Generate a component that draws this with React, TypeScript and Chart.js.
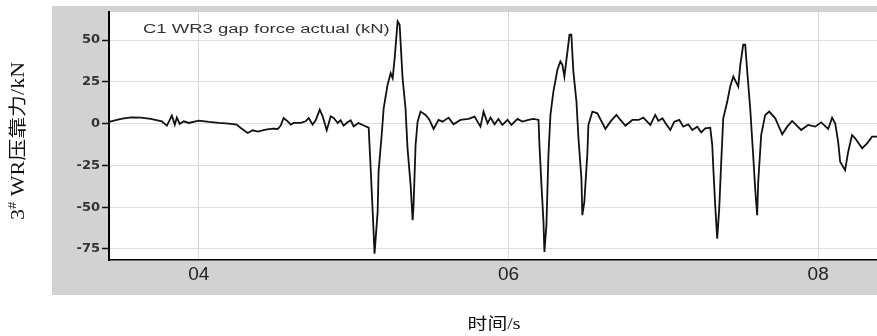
import React, { useEffect, useRef } from "react";
import { Chart, registerables } from "chart.js";

Chart.register(...registerables);

const seriesLabel = "C1 WR3 gap force actual (kN)";
const xTitle = "时间/s";
const yTitleLead = "3";
const yTitleSup = "#";
const yTitleRest = " WR压靠力/kN";

const xTicks = [4, 6, 8];
const yTicks = [-75, -50, -25, 0, 25, 50];
const xMin = 3.42;
const xMax = 8.38;
const yMin = -81.6;
const yMax = 66.8;

const timeS = [
  3.419, 3.497, 3.561, 3.626, 3.69, 3.761, 3.794, 3.826, 3.845, 3.858, 3.877, 3.903, 3.935,
  4.0, 4.065, 4.129, 4.194, 4.245, 4.271, 4.316, 4.348, 4.381, 4.432, 4.477, 4.51, 4.529,
  4.548, 4.574, 4.594, 4.613, 4.658, 4.69, 4.71, 4.735, 4.755, 4.781, 4.8, 4.826, 4.852,
  4.871, 4.897, 4.916, 4.935, 4.961, 4.981, 5.0, 5.032, 5.058, 5.097, 5.11, 5.123, 5.135,
  5.155, 5.161, 5.181, 5.194, 5.219, 5.239, 5.252, 5.265, 5.284, 5.297, 5.316, 5.335, 5.348,
  5.368, 5.381, 5.387, 5.4, 5.413, 5.432, 5.465, 5.49, 5.516, 5.548, 5.574, 5.613, 5.645,
  5.69, 5.742, 5.781, 5.819, 5.839, 5.865, 5.884, 5.91, 5.935, 5.961, 5.994, 6.019, 6.058,
  6.09, 6.129, 6.161, 6.194, 6.2, 6.213, 6.226, 6.232, 6.245, 6.258, 6.271, 6.29, 6.316,
  6.335, 6.348, 6.361, 6.381, 6.394, 6.406, 6.419, 6.439, 6.452, 6.471, 6.477, 6.49, 6.51,
  6.516, 6.542, 6.574, 6.626, 6.658, 6.697, 6.723, 6.755, 6.8, 6.839, 6.871, 6.916, 6.948,
  6.968, 6.994, 7.019, 7.045, 7.071, 7.103, 7.129, 7.161, 7.187, 7.219, 7.245, 7.271, 7.303,
  7.316, 7.323, 7.335, 7.348, 7.361, 7.374, 7.387, 7.413, 7.432, 7.452, 7.484, 7.497, 7.516,
  7.529, 7.542, 7.561, 7.581, 7.594, 7.606, 7.613, 7.632, 7.658, 7.684, 7.723, 7.768, 7.8,
  7.832, 7.89, 7.935, 7.981, 8.019, 8.065, 8.09, 8.11, 8.129, 8.142, 8.174, 8.194, 8.219,
  8.239, 8.284, 8.316, 8.348, 8.381,
];

const forceKN = [
  1.0, 2.8, 3.8, 3.6, 2.8, 1.4, -1.2, 4.8, -0.6, 3.6, -0.2, 1.4, 0.4,
  1.8, 1.0, 0.4, 0.0, -0.6, -2.6, -5.6, -4.0, -4.8, -3.6, -3.0, -3.2, -1.2,
  3.4, 1.4, -0.6, 0.4, 0.4, 1.4, 3.4, -0.6, 2.0, 8.4, 4.4, -4.0, 4.4,
  3.4, 0.4, 2.0, -1.2, 0.8, 2.0, -1.6, 0.4, -0.8, -2.4, -26.8, -52.8, -77.8,
  -52.8, -28.8, -6.8, 9.2, 23.2, 30.2, 27.2, 39.2, 61.2, 59.2, 27.2, 9.2, -14.8,
  -36.8, -57.8, -48.8, -12.8, 1.2, 7.2, 5.2, 2.2, -3.2, 2.2, 1.2, 3.6, -0.4,
  2.2, 2.8, 4.2, -1.8, 7.2, 0.2, 3.6, -0.4, 2.8, -0.8, 2.2, -0.8, 2.8,
  1.2, 2.2, 2.8, 2.2, -12.8, -36.8, -58.8, -76.8, -60.8, -18.8, 5.2, 19.2, 32.2,
  37.2, 35.2, 28.2, 43.2, 53.2, 53.2, 31.2, 13.2, -8.8, -32.8, -54.8, -46.8, -16.8,
  -0.8, 7.2, 6.2, -3.2, 1.2, 5.2, 2.2, -1.2, 2.2, 2.2, 3.6, -0.8, 5.2,
  1.6, 3.2, -0.4, -3.8, 1.2, 2.2, -1.8, -0.4, -3.8, -1.8, -5.2, -2.8, -2.4,
  -12.8, -26.8, -48.8, -68.8, -50.8, -22.8, 3.2, 13.2, 22.2, 28.2, 22.2, 35.2, 47.2,
  47.2, 31.2, 9.2, -20.0, -40.0, -54.8, -34.8, -6.8, 5.2, 7.2, 3.2, -6.4, -1.8,
  1.6, -3.8, -0.8, -1.8, 0.8, -3.2, 3.6, 0.2, -10.8, -22.8, -27.8, -16.8, -6.8,
  -8.8, -14.8, -11.8, -7.8, -7.8,
];

const panelPlugin = {
  id: "panelPlugin",
  beforeDraw(chart: any) {
    const { ctx, chartArea: a } = chart;
    ctx.save();
    ctx.fillStyle = "#d2d2d2";
    ctx.fillRect(52, 6, 877 - 52, 295 - 6);
    ctx.fillStyle = "#ffffff";
    ctx.fillRect(a.left, a.top, a.right - a.left, a.bottom - a.top);
    ctx.restore();
  },
  afterDraw(chart: any) {
    const { ctx } = chart;
    // series label inside the plot
    ctx.save();
    ctx.translate(143, 33);
    ctx.scale(1.48, 1);
    ctx.font = '12.5px "Liberation Sans", Arial, sans-serif';
    ctx.fillStyle = "#333333";
    ctx.textBaseline = "alphabetic";
    ctx.textAlign = "left";
    ctx.fillText(seriesLabel, 0, 0);
    ctx.restore();

    // x title
    ctx.save();
    ctx.translate(494, 325);
    ctx.scale(1.24, 1);
    ctx.font = '16px "Liberation Serif", "Noto Sans CJK SC", serif';
    ctx.fillStyle = "#111111";
    ctx.textAlign = "center";
    ctx.textBaseline = "middle";
    ctx.fillText(xTitle, 0, 0);
    ctx.restore();

    // y title (rotated, with superscript)
    ctx.save();
    const mainFont = '18px "Liberation Serif", "Noto Sans CJK SC", serif';
    const supFont = '12px "Liberation Serif", serif';
    ctx.font = mainFont;
    const w1 = ctx.measureText(yTitleLead).width;
    const w3 = ctx.measureText(yTitleRest).width;
    ctx.font = supFont;
    const w2 = ctx.measureText(yTitleSup).width;
    const total = w1 + w2 + w3;
    ctx.translate(19, 141);
    ctx.rotate(-Math.PI / 2);
    ctx.scale(1.22, 1);
    ctx.fillStyle = "#111111";
    ctx.textAlign = "left";
    ctx.textBaseline = "middle";
    let x0 = -total / 2;
    ctx.font = mainFont;
    ctx.fillText(yTitleLead, x0, 0);
    x0 += w1;
    ctx.font = supFont;
    ctx.fillText(yTitleSup, x0, -6);
    x0 += w2;
    ctx.font = mainFont;
    ctx.fillText(yTitleRest, x0, 0);
    ctx.restore();
  },
};

export default function App() {
  const canvasRef = useRef<HTMLCanvasElement | null>(null);

  useEffect(() => {
    const canvas = canvasRef.current;
    if (!canvas) return;
    const chart = new Chart(canvas, {
      type: "line",
      data: {
        datasets: [
          {
            label: seriesLabel,
            data: timeS.map((t, i) => ({ x: t, y: forceKN[i] })),
            borderColor: "#111111",
            borderWidth: 1.8,
            pointRadius: 0,
            tension: 0,
            fill: false,
          },
        ],
      },
      options: {
        responsive: false,
        animation: false,
        devicePixelRatio: 1,
        layout: { padding: { left: 0, right: 0, top: 12, bottom: 0 } },
        plugins: {
          legend: { display: false },
          tooltip: { enabled: false },
          title: { display: false },
        },
        scales: {
          x: {
            type: "linear",
            min: xMin,
            max: xMax,
            afterBuildTicks: (axis: any) => {
              axis.ticks = xTicks.map((v) => ({ value: v }));
            },
            afterFit: (axis: any) => {
              axis.height = 76;
            },
            grid: {
              color: "#d8d8d8",
              lineWidth: 1,
              drawTicks: false,
            },
            border: { color: "#000000", width: 1.5 },
            ticks: {
              padding: 3,
              color: "#222222",
              font: { family: '"Liberation Sans", Arial, sans-serif', size: 19 },
              maxRotation: 0,
              callback: (v: any) => (Number(v) < 10 ? "0" + Number(v) : String(v)),
            },
          },
          y: {
            type: "linear",
            min: yMin,
            max: yMax,
            afterBuildTicks: (axis: any) => {
              axis.ticks = yTicks.map((v) => ({ value: v }));
            },
            afterFit: (axis: any) => {
              axis.width = 109;
            },
            grid: {
              color: "#dcdcdc",
              lineWidth: 1,
              drawTicks: true,
              tickLength: 7,
              tickColor: "#111111",
              tickWidth: 1.5,
            },
            border: { color: "#000000", width: 2 },
            ticks: {
              padding: 2,
              color: "#333333",
              font: { family: '"DejaVu Sans", sans-serif', size: 13, weight: "bold" },
            },
          },
        },
      },
      plugins: [panelPlugin],
    });
    return () => chart.destroy();
  }, []);

  return (
    <div style={{ position: "absolute", left: 0, top: 0, width: 877, height: 336, background: "#ffffff" }}>
      <canvas ref={canvasRef} width={877} height={336} style={{ display: "block", width: 877, height: 336 }} />
    </div>
  );
}
